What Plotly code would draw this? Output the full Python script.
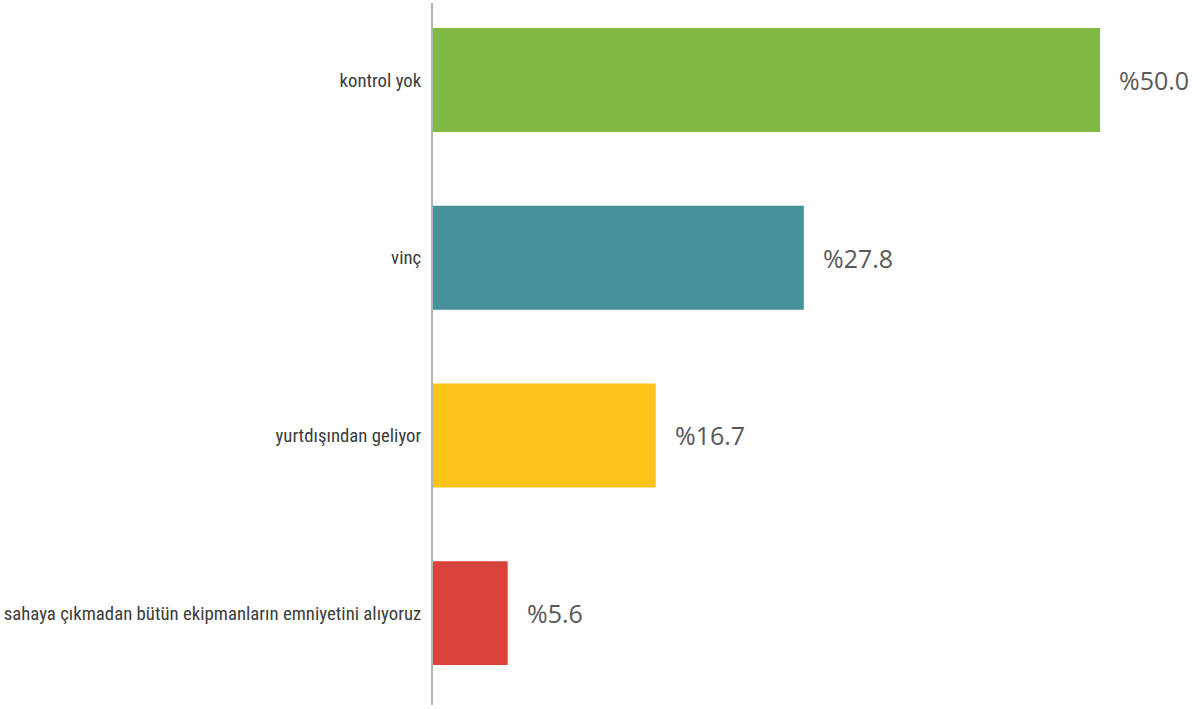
import plotly.graph_objects as go

categories = [
    "kontrol yok",
    "vinç",
    "yurtdışından geliyor",
    "sahaya çıkmadan bütün ekipmanların emniyetini alıyoruz",
]
values = [50.0, 27.8, 16.7, 5.6]
bar_colors = ["#7fb843", "#46929b", "#fcc419", "#d8433b"]

fig = go.Figure(
    go.Bar(
        x=values,
        y=categories,
        orientation="h",
        marker=dict(color=bar_colors, line=dict(width=0)),
        width=0.585,
        hoverinfo="skip",
    )
)

# value labels to the right of each bar
for cat, v in zip(categories, values):
    fig.add_annotation(
        x=v, y=cat, text=f"%{v:.1f}", showarrow=False,
        xanchor="left", yanchor="middle", xshift=17,
        font=dict(family="Open Sans, sans-serif", size=25, color="#595959"),
    )

fig.update_layout(
    width=1202, height=709,
    margin=dict(l=433, r=12, t=3, b=4),
    paper_bgcolor="white", plot_bgcolor="white",
    showlegend=False,
    xaxis=dict(range=[0, 56.75], visible=False, fixedrange=True),
    yaxis=dict(
        type="category",
        categoryorder="array", categoryarray=categories,
        range=[3.517, -0.433],
        automargin=False,
        showgrid=False, zeroline=False,
        showline=True, linecolor="#b3b3b3", linewidth=2,
        ticks="", ticklabelstandoff=6,
        tickfont=dict(family="Roboto Condensed, sans-serif", size=18.8, color="#3c3c3c"),
    ),
)

fig.write_html("out.html")
